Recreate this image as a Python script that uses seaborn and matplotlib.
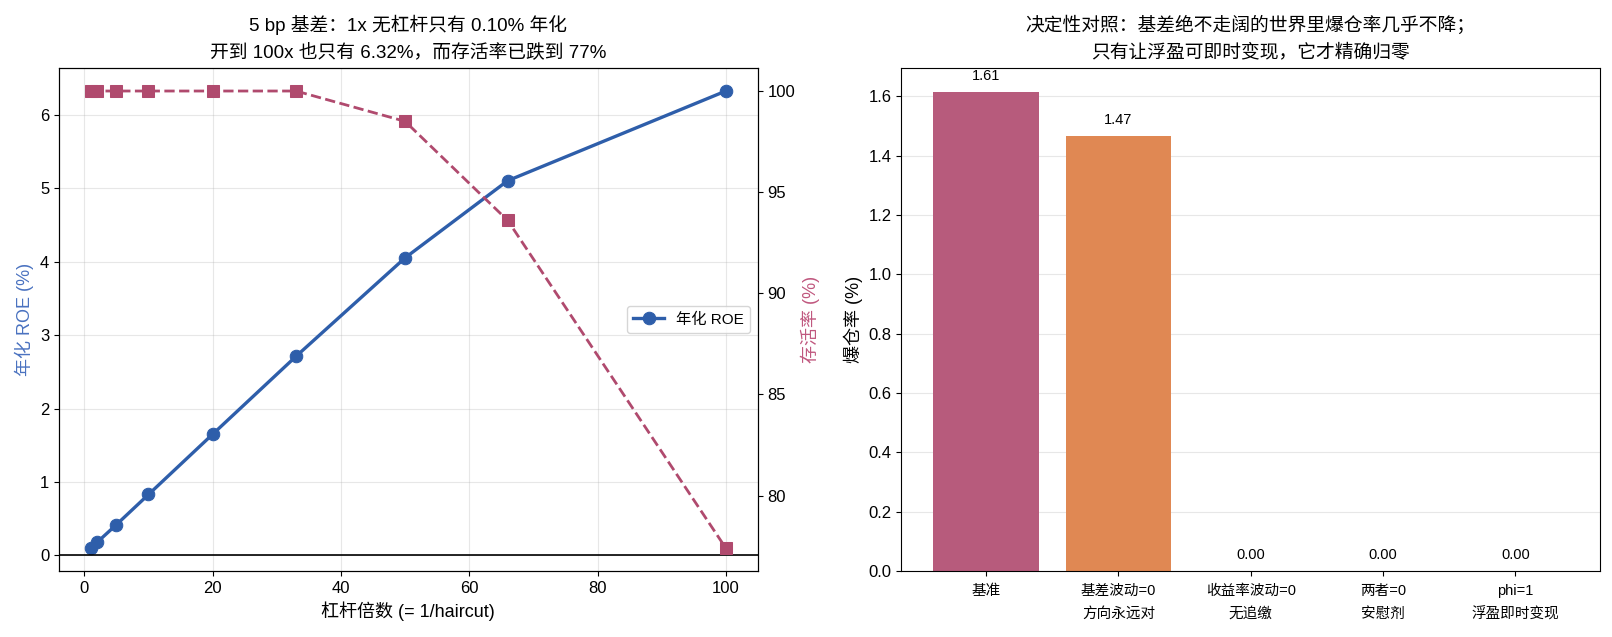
import matplotlib
matplotlib.use('Agg')
import matplotlib.pyplot as plt
import seaborn as sns

# left panel: leverage sweep at 5 bp basis
leverage = [1, 2, 5, 10, 20, 33, 50, 66, 100]
roe_pct = [0.10, 0.18, 0.42, 0.83, 1.65, 2.71, 4.05, 5.10, 6.32]
survival_pct = [100.0, 100.0, 100.0, 100.0, 100.0, 100.0, 98.5, 93.6, 77.4]

# right panel: liquidation rate under counterfactual scenarios
scenarios = ['基准', '基差波动=0\n方向永远对', '收益率波动=0\n无追缴', '两者=0\n安慰剂', 'phi=1\n浮盈即时变现']
liq_rate_pct = [1.614, 1.466, 0.0, 0.0, 0.0]
bar_colors = ['#b75b7c', '#e08853', '#d9a46a', '#8f9fc4', '#6f8fbf']

blue = '#2e5eaa'
pink = '#b04a6e'

plt.rcParams['font.family'] = ['Liberation Sans', 'Noto Sans CJK SC', 'DejaVu Sans']
plt.rcParams['font.size'] = 12
plt.rcParams['axes.labelsize'] = 13
plt.rcParams['axes.unicode_minus'] = False

fig, (ax1, ax2) = plt.subplots(1, 2, figsize=(16.12, 6.37), dpi=100)
fig.subplots_adjust(left=0.0366, right=0.9926, bottom=0.1036, top=0.893, wspace=0.206)

# ---- left
sns.lineplot(x=leverage, y=roe_pct, ax=ax1, color=blue, marker='o', markersize=9,
             markeredgecolor=blue, linewidth=2.4, label='年化 ROE')
ax1.axhline(0, color='black', linewidth=1.2)
ax1.set_xlabel('杠杆倍数 (= 1/haircut)')
ax1.set_ylabel('年化 ROE (%)', color='#4a72c0')
ax1.grid(True, alpha=0.3)
ax1.set_title('5 bp 基差：1x 无杠杆只有 0.10% 年化\n开到 100x 也只有 6.32%，而存活率已跌到 77%',
              fontsize=13.5, linespacing=1.6, pad=8)

ax1b = ax1.twinx()
sns.lineplot(x=leverage, y=survival_pct, ax=ax1b, color=pink, marker='s', markersize=8,
             markeredgecolor=pink, linewidth=2, linestyle='--', legend=False)
ax1b.set_ylabel('存活率 (%)', color='#c0577e')
ax1b.set_yticks([80, 85, 90, 95, 100])

ax1.legend(loc='center right', fontsize=11)

# ---- right
sns.barplot(x=scenarios, y=liq_rate_pct, hue=scenarios, palette=bar_colors, legend=False,
            saturation=1, width=0.8, linewidth=0, ax=ax2)
for i, v in enumerate(liq_rate_pct):
    ax2.text(i, v + 0.03, f'{v:.2f}', ha='center', va='bottom', fontsize=10.5)
ax2.set_xlim(-0.64, 4.64)
ax2.set_ylim(0, max(liq_rate_pct) * 1.05)
ax2.set_ylabel('爆仓率 (%)')
ax2.set_xlabel('')
ax2.tick_params(axis='x', labelsize=10.5, pad=6)
for lab in ax2.get_xticklabels():
    lab.set_linespacing(1.8)
ax2.grid(True, axis='y', alpha=0.3)
ax2.set_axisbelow(True)
ax2.set_title('决定性对照：基差绝不走阔的世界里爆仓率几乎不降；\n只有让浮盈可即时变现，它才精确归零',
              fontsize=13.5, linespacing=1.6, pad=8)

fig.savefig('out.png', dpi=100)
